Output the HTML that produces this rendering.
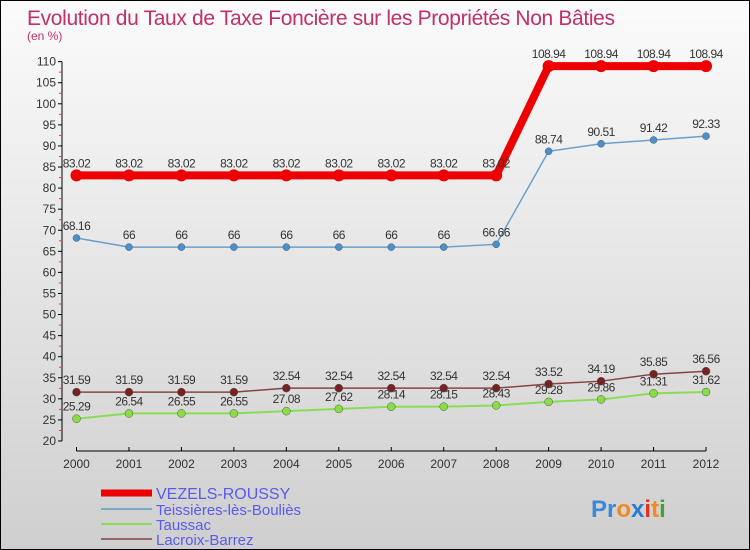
<!DOCTYPE html>
<html><head><meta charset="utf-8"><style>
body{margin:0}
#c{position:relative;width:748px;height:548px;border:1px solid #000;background:linear-gradient(#fbfbfb,#cfcfcf);font-family:"Liberation Sans",sans-serif;overflow:hidden}
svg{position:absolute;left:0;top:0}
</style></head><body>
<div id="c">
<svg id="s" width="748" height="548">
<text x="26" y="24" font-size="21" fill="#c0306a" textLength="588">Evolution du Taux de Taxe Foncière sur les Propriétés Non Bâties</text>
<text x="26" y="39" font-size="12" fill="#c0306a">(en %)</text>
<g id="ax"></g><g id="ser"></g>
<g>
<line x1="100" y1="492" x2="151" y2="492" stroke="#e00" stroke-width="7"/>
<text x="155" y="498" font-size="16" fill="#5a5aee">VEZELS-ROUSSY</text>
<line x1="100" y1="508" x2="151" y2="508" stroke="#7aa9cc" stroke-width="2"/>
<text x="155" y="514" font-size="15" fill="#5a5aee">Teissières-lès-Bouliès</text>
<line x1="100" y1="523" x2="151" y2="523" stroke="#88dd55" stroke-width="2"/>
<text x="155" y="529" font-size="15" fill="#5a5aee">Taussac</text>
<line x1="100" y1="538" x2="151" y2="538" stroke="#996666" stroke-width="2"/>
<text x="155" y="544" font-size="15" fill="#5a5aee">Lacroix-Barrez</text>
</g>
<text x="590" y="516" font-size="24" font-weight="bold"><tspan fill="#3a88d8">Pr</tspan><tspan fill="#f08a20">o</tspan><tspan fill="#2a7ad0">x</tspan><tspan fill="#e03020">i</tspan><tspan fill="#f08a20">t</tspan><tspan fill="#40a040">i</tspan></text>
</svg></div>
<script>
const years=[2000,2001,2002,2003,2004,2005,2006,2007,2008,2009,2010,2011,2012];
const vezels=[83.02,83.02,83.02,83.02,83.02,83.02,83.02,83.02,83.02,108.94,108.94,108.94,108.94];
const teiss=[68.16,66,66,66,66,66,66,66,66.66,88.74,90.51,91.42,92.33];
const taussac=[25.29,26.54,26.55,26.55,27.08,27.62,28.14,28.15,28.43,29.28,29.86,31.31,31.62];
const lacroix=[31.59,31.59,31.59,31.59,32.54,32.54,32.54,32.54,32.54,33.52,34.19,35.85,36.56];
const yTicks=[20,25,30,35,40,45,50,55,60,65,70,75,80,85,90,95,100,105,110];
const NS="http://www.w3.org/2000/svg";
const X=i=>75.5+i*52.46, Y=v=>440-(v-20)*4.215;
function mk(t,a,p){const e=document.createElementNS(NS,t);for(const k in a)e.setAttribute(k,a[k]);p.appendChild(e);return e;}
const ax=document.getElementById('ax'),ser=document.getElementById('ser');
const ya=mk('line',{x1:61,y1:Y(110),x2:61,y2:Y(20),stroke:'#000'},ax);


const yMax=yTicks[yTicks.length-1];
yTicks.forEach(v=>{mk('line',{x1:57,y1:Y(v),x2:61,y2:Y(v),stroke:'#000'},ax);
 if(v<yMax)mk('line',{x1:58,y1:Y(v+2.5),x2:61,y2:Y(v+2.5),stroke:'#f33'},ax);
 const t=mk('text',{x:55,y:Y(v)+4,'font-size':12,'text-anchor':'end',fill:'#333'},ax);t.textContent=v;
 
 });
const xa=mk('line',{x1:X(0),y1:450,x2:X(12),y2:450,stroke:'#000'},ax);


years.forEach((y,i)=>{mk('line',{x1:X(i),y1:446,x2:X(i),y2:450,stroke:'#000'},ax);
 const t=mk('text',{x:X(i),y:467,'font-size':12,'text-anchor':'middle',fill:'#333'},ax);t.textContent=y;
 
 });
function series(d,name,col,w,r,fill){
 const g=mk('g',{},ser);
 
 
 mk('polyline',{points:d.map((v,i)=>X(i)+','+Y(v)).join(' '),fill:'none',stroke:col,'stroke-width':w},g);
 d.forEach((v,i)=>{const c=mk('circle',{cx:X(i),cy:Y(v),r:r,fill:fill,stroke:r>4?'none':'#555','stroke-width':0.5},g);
  
  
  const t=mk('text',{x:X(i),y:Y(v)-8,'font-size':12,'text-anchor':'middle',fill:'#333','letter-spacing':'-0.5'},g);t.textContent=v;
  
  });
}
series(taussac,'taussac-series','#88dd55',2,4,'#88dd44');
series(lacroix,'lacroix-series','#884444',1.5,4,'#772222');
series(teiss,'teissieres-series','#6aa0cc',1.5,3.5,'#4a90cc');
series(vezels,'vezels-series','#ee0000',8,6,'#ee0000');
</script>
</body></html>
